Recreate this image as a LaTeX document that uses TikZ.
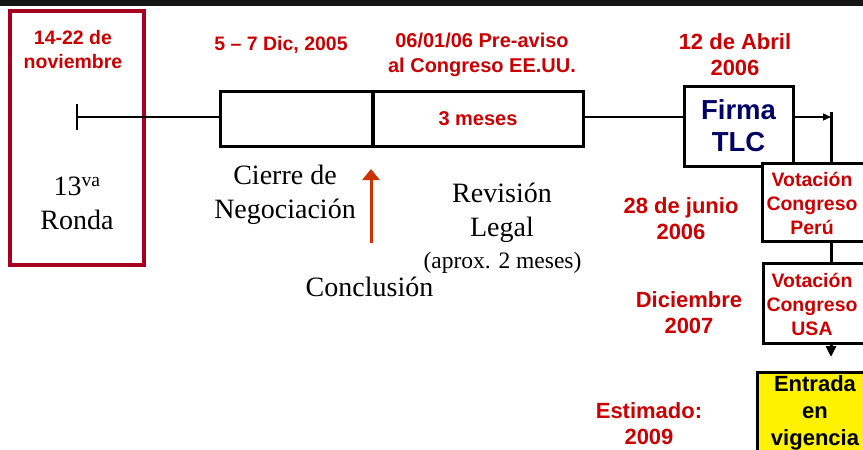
\documentclass[tikz,border=0pt]{standalone}
\usepackage{fontspec}
\setmainfont{Liberation Serif}
\newfontfamily\arialf{Liberation Sans}
\usetikzlibrary{arrows.meta}
\definecolor{darkred}{HTML}{A50021}
\definecolor{txtred}{HTML}{CC0000}
\definecolor{navyc}{HTML}{000066}
\definecolor{arrowred}{HTML}{CC3300}
\definecolor{bandc}{HTML}{151515}
\begin{document}
\begin{tikzpicture}[x=1pt,y=-1pt,
  redlbl/.style={font=\arialf\bfseries\fontsize{19.5}{24}\selectfont, text=txtred, align=center, inner sep=0pt},
  datelbl/.style={font=\arialf\bfseries\fontsize{22}{26}\selectfont, text=txtred, align=center, inner sep=0pt},
  seriflbl/.style={font=\fontsize{28}{34}\selectfont, align=center, inner sep=0pt},
  tlbox/.style={draw, line width=3pt, fill=white, inner sep=0pt},
  thinline/.style={line width=1.3pt},
  thickline/.style={line width=3pt}
]
\useasboundingbox (0,0) rectangle (863,450);
\clip (0,0) rectangle (863,450);
\fill[bandc] (0,0) rectangle (863,6);

% left red box
\node[draw=darkred, line width=4pt, minimum width=134, minimum height=254, inner sep=0pt] (ronda) at (77,138) {};
\node[redlbl] (d1) at (73,50) {14-22 de\\noviembre};
\node[seriflbl] (r13) at (77,203.5) {13\textsuperscript{va}\\Ronda};

% timeline
\coordinate (start) at (77,117);
\draw[line width=2pt] ([yshift=13pt]start) -- ([yshift=-13pt]start);
\node[tlbox, minimum width=152, minimum height=55] (b1) at (296.5,119) {};
\node[tlbox, minimum width=210, minimum height=55, font=\arialf\bfseries\fontsize{20}{24}\selectfont, text=txtred] (b2) at (478,119) {3 meses};
\node[tlbox, minimum width=109, minimum height=80, align=center, font=\arialf\bfseries\fontsize{27.5}{32}\selectfont, text=navyc] (firma) at (738.5,126) {Firma\\TLC};
\draw[thinline] (start) -- (start -| b1.west);
\draw[thinline] (start -| b2.east) -- (start -| firma.west);

\node[redlbl] (d2) at (281,45) {5 \textendash{} 7 Dic, 2005};
\node[redlbl, font=\arialf\bfseries\fontsize{20}{25}\selectfont] (d3) at (482,54.5) {06/01/06 Pre-aviso\\al Congreso EE.UU.};
\node[datelbl] (d4) at (735,55) {12 de Abril\\2006};

\node[seriflbl] (cierre) at (285,194.5) {Cierre de\\Negociación};
\node[seriflbl] (rev) at (502,213) {Revisión\\Legal};
\node[seriflbl, font=\fontsize{23.5}{28}\selectfont] (aprox) at (502.5,263) {(aprox. 2 meses)};
\node[seriflbl] (concl) at (369.5,287) {Conclusión};
\coordinate (aB) at (371,243);
\coordinate (aT) at (371,169);
\draw[arrowred, line width=3pt, -{Triangle[length=11pt,width=17pt]}] (aB) -- (aT);

% right column
\coordinate (vtop) at (831,112);
\draw[thinline, -{Triangle[length=8pt,width=7pt]}] (start -| firma.east) -- (start -| vtop);
\node[tlbox, minimum width=106, minimum height=78] (peru) at (815,202) {};
\draw[thickline] (vtop) -- (peru.north -| vtop);
\node[tlbox, minimum width=106, minimum height=80] (usa) at (816,303) {};
\draw[thickline] (peru.south -| vtop) -- (usa.north -| vtop);
\node[redlbl] (perut) at (812,203) {Votación\\Congreso\\Perú};
\node[redlbl] (usat) at (812,304) {Votación\\Congreso\\USA};
\coordinate (etop) at (831,357);
\draw[thickline, -{Triangle[length=11pt,width=10pt]}] (usa.south -| vtop) -- (etop);
\node[tlbox, fill=yellow, minimum width=116, minimum height=88] (ent) at (815,416) {};
\node[font=\arialf\bfseries\fontsize{22}{27}\selectfont, align=center, inner sep=0pt] (entt) at (815,413) {Entrada\\en\\vigencia};

\node[datelbl] (d5) at (681,218.5) {28 de junio\\2006};
\node[datelbl] (d6) at (689,312.5) {Diciembre\\2007};
\node[datelbl] (d7) at (649,423.5) {Estimado:\\2009};
\end{tikzpicture}
\end{document}
